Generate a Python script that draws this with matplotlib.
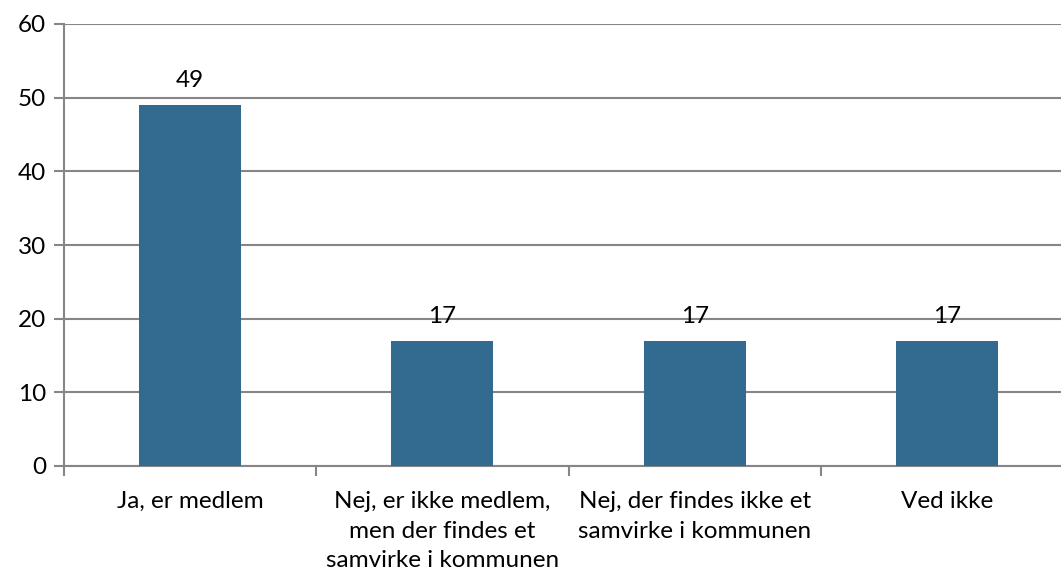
import matplotlib.pyplot as plt

categories = ["Ja, er medlem",
              "Nej, er ikke medlem,\nmen der findes et\nsamvirke i kommunen",
              "Nej, der findes ikke et\nsamvirke i kommunen",
              "Ved ikke"]
values = [49, 17, 17, 17]
yticks = [0, 10, 20, 30, 40, 50, 60]

plt.rcParams['font.family'] = ['Lato', 'DejaVu Sans']
grid_col = '#868686'
fs = 17.5

fig = plt.figure(figsize=(10.61, 5.75), dpi=100)
ax = fig.add_axes([64 / 1061, 1 - 466 / 575, (1073 - 64) / 1061, (466 - 24) / 575])

x = range(len(categories))
bars = ax.bar(x, values, width=0.405, color='#336A8F', zorder=3)
for b, v in zip(bars, values):
    ax.text(b.get_x() + b.get_width() / 2, v + 2.4, str(v),
            ha='center', va='baseline', fontsize=fs, color='black', zorder=4)

ax.set_xlim(-0.5, len(categories) - 0.5)
ax.set_ylim(0, 60)
ax.set_yticks(yticks)
ax.yaxis.grid(True, color=grid_col, linewidth=1.5, zorder=0)
ax.tick_params(axis='y', length=7, width=1.5, color=grid_col, labelsize=fs, pad=6)

# category labels centred on bars, tick marks between categories
ax.set_xticks(list(x))
ax.set_xticklabels(categories, fontsize=fs, linespacing=1.5, va='top')
ax.tick_params(axis='x', length=0, pad=18)
ax.set_xticks([i - 0.5 for i in range(len(categories) + 1)], minor=True)
ax.tick_params(axis='x', which='minor', length=7, width=1.5, color=grid_col)

for side in ['top', 'right']:
    ax.spines[side].set_visible(False)
for side in ['left', 'bottom']:
    ax.spines[side].set_color(grid_col)
    ax.spines[side].set_linewidth(1.5)

fig.savefig('out.png', dpi=100)
